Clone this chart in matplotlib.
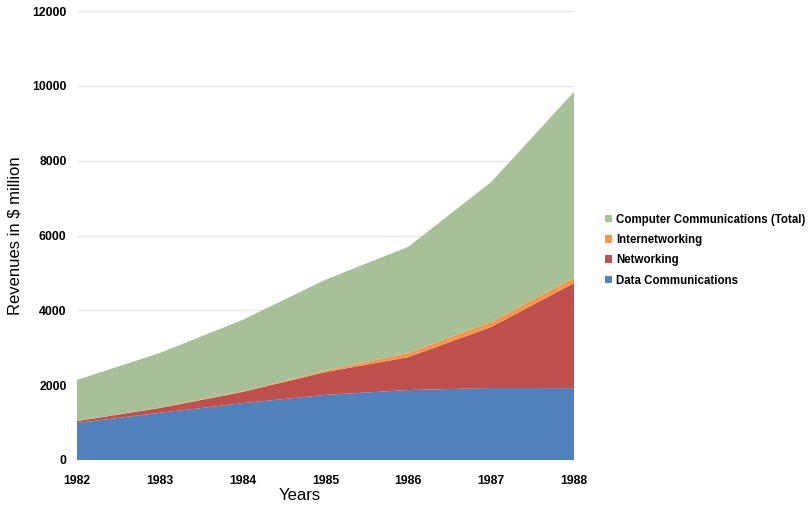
import matplotlib
matplotlib.use("Agg")
import matplotlib.pyplot as plt
from matplotlib.patches import Patch

plt.rcParams['font.family'] = ['Liberation Sans', 'DejaVu Sans']

years = [1982, 1983, 1984, 1985, 1986, 1987, 1988]
data_comm = [990, 1260, 1520, 1740, 1870, 1925, 1920]
networking = [50, 130, 300, 610, 880, 1630, 2810]
internetworking = [0, 10, 15, 40, 110, 135, 140]
total = [1100, 1460, 1910, 2430, 2840, 3740, 4970]

series = [
    ("Data Communications", data_comm, "#4F81BD"),
    ("Networking", networking, "#C0504D"),
    ("Internetworking", internetworking, "#F79646"),
    ("Computer Communications (Total)", total, "#A6C197"),
]

fig = plt.figure(figsize=(8.1, 5.07), dpi=100)
ax = fig.add_axes([77 / 810, 1 - 460 / 507, (574 - 77) / 810, (460 - 11) / 507])

ax.stackplot(years, *[s[1] for s in series], colors=[s[2] for s in series],
             labels=[s[0] for s in series], linewidth=0)

ax.set_xlim(1982, 1988)
ax.set_ylim(0, 12000)
ax.set_yticks(range(0, 12001, 2000))
ax.set_xticks(years)
ax.yaxis.grid(True, color="#E6E6E6", linewidth=1)
ax.set_axisbelow(True)
for sp in ax.spines.values():
    sp.set_visible(False)
ax.tick_params(axis="y", length=0, labelsize=8.8, pad=7.5)
ax.tick_params(axis="x", length=0, labelsize=8.8, pad=11)
for lbl in ax.get_xticklabels() + ax.get_yticklabels():
    lbl.set_fontweight("bold")

ax.set_xlabel("Years", fontsize=12)
ax.xaxis.set_label_coords((300 - 77) / 497, -(496 - 460) / 449)
ax.xaxis.label.set_va("center")
ax.set_ylabel("Revenues in $ million", fontsize=12)
ax.yaxis.set_label_coords(-(77 - 15) / 497, 0.5)
ax.yaxis.label.set_va("center")

handles = [Patch(facecolor=s[2], label=s[0]) for s in reversed(series)]
leg = fig.legend(handles=handles, loc="upper left", bbox_to_anchor=(600 / 810, 1 - 209 / 507),
                 frameon=False, prop={"weight": "bold", "size": 8.3},
                 handlelength=0.6, handleheight=0.6, handletextpad=0.4, labelspacing=0.72,
                 borderaxespad=0)

fig.savefig("out.png", dpi=100)
